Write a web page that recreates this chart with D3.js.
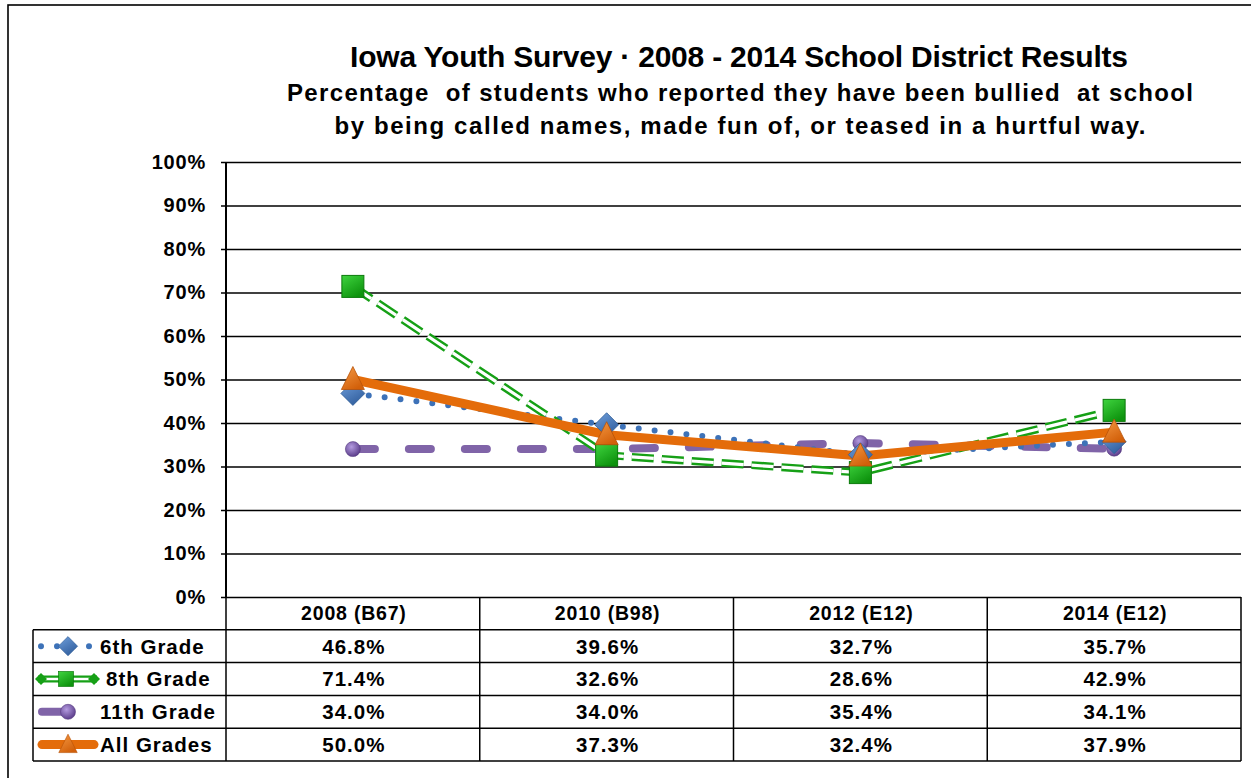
<!DOCTYPE html>
<html>
<head>
<meta charset="utf-8">
<script src="https://cdn.jsdelivr.net/npm/d3@7"></script>
<style>
body { margin: 0; background: #fff; }
svg text { font-family: "Liberation Sans", Arial, Helvetica, sans-serif; font-weight: bold; fill: #000; }
</style>
</head>
<body>
<div id="container"></div>
<script>
// chart data
var categories = ["2008 (B67)", "2010 (B98)", "2012 (E12)", "2014 (E12)"];
var seriesNames = ["6th Grade", "8th Grade", "11th Grade", "All Grades"];
var grade6 = [46.8, 39.6, 32.7, 35.7];
var grade8 = [71.4, 32.6, 28.6, 42.9];
var grade11 = [34.0, 34.0, 35.4, 34.1];
var allGrades = [50.0, 37.3, 32.4, 37.9];
var yTicks = [0, 10, 20, 30, 40, 50, 60, 70, 80, 90, 100];
var titleText = "Iowa Youth Survey \u00b7 2008 - 2014 School District Results";
var subtitleLines = [
	"Percentage  of students who reported they have been bullied  at school",
	"by being called names, made fun of, or teased in a hurtful way."
];

(function()
{
	var W = 1251, H = 778;
	var plotLeft = 226, plotRight = 1241, plotTop = 162, plotBottom = 597;
	var tableBottom = 761, legendLeft = 33;

	var svg = d3.select("#container").append("svg").attr("width", W).attr("height", H);
	var defs = svg.append("defs");

	// gradients for the glossy markers
	function linGrad(id, c1, c2)
	{
		var g = defs.append("linearGradient").attr("id", id).attr("x1", 0).attr("y1", 0).attr("x2", 0.6).attr("y2", 1);
		g.append("stop").attr("offset", "0%").attr("stop-color", c1);
		g.append("stop").attr("offset", "100%").attr("stop-color", c2);
	}
	linGrad("gBlue", "#6f9fdc", "#33609f");
	linGrad("gGreen", "#3fd43f", "#0e930e");
	linGrad("gOrange", "#f59a45", "#d2600a");
	var rg = defs.append("radialGradient").attr("id", "gPurple").attr("cx", "40%").attr("cy", "35%").attr("r", "65%");
	rg.append("stop").attr("offset", "0%").attr("stop-color", "#b49be0");
	rg.append("stop").attr("offset", "100%").attr("stop-color", "#5d3f8c");

	// outer frame
	svg.append("rect").attr("x", 8).attr("y", 5).attr("width", W + 20).attr("height", H + 20)
		.attr("fill", "none").attr("stroke", "#000").attr("stroke-width", 1.6);

	// titles
	svg.append("text").attr("x", 739).attr("y", 67).attr("text-anchor", "middle")
		.style("font-size", "30px").attr("textLength", 778).attr("lengthAdjust", "spacing")
		.text(titleText);
	var subW = [906, 811];
	var subY = [101, 134];
	subtitleLines.forEach(function(t, i)
	{
		svg.append("text").attr("x", 740).attr("y", subY[i]).attr("text-anchor", "middle")
			.style("font-size", "24px").attr("textLength", subW[i]).attr("lengthAdjust", "spacing")
			.style("white-space", "pre")
			.text(t);
	});

	var x = d3.scaleBand().domain(categories).range([plotLeft, plotRight]);
	var y = d3.scaleLinear().domain([0, 100]).range([plotBottom, plotTop]);
	var rows = d3.scaleBand().domain(["head"].concat(seriesNames)).range([plotBottom, tableBottom]);

	// gridlines
	var grid = svg.append("g").attr("transform", "translate(" + plotLeft + ",0)")
		.call(d3.axisLeft(y).tickValues(yTicks).tickSize(-(plotRight - plotLeft)).tickFormat(""));
	grid.select(".domain").remove();
	grid.selectAll("line").attr("stroke", "#000").attr("stroke-width", 1.5);

	// y axis
	var yAxis = svg.append("g").attr("transform", "translate(" + plotLeft + ",0)")
		.call(d3.axisLeft(y).tickValues(yTicks).tickSize(5).tickPadding(15).tickFormat(function(d) { return d + "%"; }));
	yAxis.select(".domain").attr("stroke", "#000").attr("stroke-width", 2).attr("d", "M0," + plotTop + "V" + plotBottom);
	yAxis.selectAll(".tick line").attr("stroke", "#000").attr("stroke-width", 1.5);
	yAxis.selectAll(".tick text").style("font-size", "20px").style("letter-spacing", "0.8px")
		.style("font-family", "'Liberation Sans', Arial, sans-serif").style("font-weight", "bold").attr("fill", "#000");

	// data table
	var table = svg.append("g");
	var hLines = [plotBottom].concat(seriesNames.map(function(s) { return rows(s); })).concat([tableBottom]);
	hLines.forEach(function(yy, i)
	{
		if (i == 0) return; // top line is the 0% gridline
		table.append("line").attr("x1", legendLeft).attr("x2", plotRight).attr("y1", yy).attr("y2", yy)
			.attr("stroke", "#000").attr("stroke-width", 1.5);
	});
	table.append("line").attr("x1", legendLeft).attr("x2", legendLeft).attr("y1", rows(seriesNames[0])).attr("y2", tableBottom)
		.attr("stroke", "#000").attr("stroke-width", 1.5);
	var colEdges = categories.map(function(c) { return x(c); }).concat([plotRight]);
	colEdges.forEach(function(xx)
	{
		table.append("line").attr("x1", xx).attr("x2", xx).attr("y1", plotBottom).attr("y2", tableBottom)
			.attr("stroke", "#000").attr("stroke-width", 1.5);
	});

	categories.forEach(function(c)
	{
		table.append("text").attr("x", x(c) + x.bandwidth() / 2 + 1).attr("y", rows("head") + rows.bandwidth() / 2)
			.attr("dy", "0.36em").attr("text-anchor", "middle").style("font-size", "19.5px").style("letter-spacing", "0.8px")
			.text(c);
	});

	var series = [
		{ name: seriesNames[0], values: grade6, marker: "diamond" },
		{ name: seriesNames[1], values: grade8, marker: "square" },
		{ name: seriesNames[2], values: grade11, marker: "circle" },
		{ name: seriesNames[3], values: allGrades, marker: "triangle" }
	];

	series.forEach(function(s)
	{
		s.values.forEach(function(v, i)
		{
			table.append("text").attr("x", x(categories[i]) + x.bandwidth() / 2 + 1).attr("y", rows(s.name) + rows.bandwidth() / 2)
				.attr("dy", "0.36em").attr("text-anchor", "middle").style("font-size", "20.5px").style("letter-spacing", "1px")
				.text(v.toFixed(1) + "%");
		});
	});

	// line styles
	function styleLine(sel, s)
	{
		if (s.marker == "diamond")
			sel.attr("stroke", "#3d72b8").attr("stroke-width", 6).attr("stroke-linecap", "round").attr("stroke-dasharray", "0 16");
		else if (s.marker == "circle")
			sel.attr("stroke", "#8064a8").attr("stroke-width", 8).attr("stroke-linecap", "round").attr("stroke-dasharray", "22 34");
		else if (s.marker == "triangle")
			sel.attr("stroke", "#e46c0a").attr("stroke-width", 9).attr("stroke-linejoin", "round");
		else
			sel.attr("stroke", "#16a016").attr("stroke-width", 8).attr("stroke-dasharray", "22 8");
	}

	function drawMarker(g, type, cx, cy, k)
	{
		k = k || 1;
		var m = g.append("g").attr("transform", "translate(" + cx + "," + cy + ") scale(" + k + ")");
		if (type == "diamond")
			m.append("path").attr("d", "M0,-12L12,0L0,12L-12,0Z").attr("fill", "url(#gBlue)").attr("stroke", "#2f5d97").attr("stroke-width", 0.8);
		else if (type == "square")
			m.append("rect").attr("x", -11).attr("y", -11).attr("width", 22).attr("height", 22)
				.attr("fill", "url(#gGreen)").attr("stroke", "#0b7a0b").attr("stroke-width", 1);
		else if (type == "circle")
			m.append("circle").attr("r", 7.5).attr("fill", "url(#gPurple)").attr("stroke", "#553a80").attr("stroke-width", 0.6);
		else
			m.append("path").attr("d", "M0,-13L11.5,10L-11.5,10Z").attr("fill", "url(#gOrange)").attr("stroke", "#b85207").attr("stroke-width", 0.8);
	}

	var line = d3.line()
		.x(function(d, i) { return x(categories[i]) + x.bandwidth() / 2; })
		.y(function(d) { return y(d); });

	var lineOrder = [2, 0, 1, 3];
	var lines = svg.append("g");
	lineOrder.forEach(function(k)
	{
		var s = series[k];
		var p = lines.append("path").datum(s.values).attr("fill", "none").attr("d", line);
		styleLine(p, s);
		if (s.marker == "square")
		{
			lines.append("path").datum(s.values).attr("fill", "none").attr("d", line)
				.attr("stroke", "#fff").attr("stroke-width", 3.2).attr("stroke-dasharray", "22 8");
		}
	});

	var markers = svg.append("g");
	lineOrder.forEach(function(k)
	{
		var s = series[k];
		s.values.forEach(function(v, i)
		{
			drawMarker(markers, s.marker, x(categories[i]) + x.bandwidth() / 2, y(v));
		});
	});

	// legend keys in the table
	var legend = svg.append("g");
	series.forEach(function(s)
	{
		var cy = rows(s.name) + rows.bandwidth() / 2;
		if (s.marker == "diamond")
		{
			legend.append("path").attr("d", "M41," + cy + "H97").attr("fill", "none")
				.attr("stroke", "#3d72b8").attr("stroke-width", 6).attr("stroke-linecap", "round").attr("stroke-dasharray", "0 16");
			drawMarker(legend, "diamond", 68, cy, 0.8);
		}
		else if (s.marker == "square")
		{
			legend.append("path").attr("d", "M38," + cy + "H97").attr("stroke", "#16a016").attr("stroke-width", 7);
			legend.append("path").attr("d", "M42," + cy + "H93").attr("stroke", "#fff").attr("stroke-width", 2.6);
			legend.append("path").attr("d", "M35," + cy + "l6,-6l6,6l-6,6Z").attr("fill", "#16a016");
			legend.append("path").attr("d", "M88," + cy + "l6,-6l6,6l-6,6Z").attr("fill", "#16a016");
			drawMarker(legend, "square", 66, cy, 0.68);
		}
		else if (s.marker == "circle")
		{
			legend.append("path").attr("d", "M42," + cy + "H66").attr("stroke", "#8064a8").attr("stroke-width", 8).attr("stroke-linecap", "round");
			drawMarker(legend, "circle", 68, cy, 1);
		}
		else
		{
			legend.append("path").attr("d", "M42," + cy + "H94").attr("stroke", "#e46c0a").attr("stroke-width", 9).attr("stroke-linecap", "round");
			drawMarker(legend, "triangle", 68, cy, 0.8);
		}
		var tx = (s.marker == "square") ? 106 : 100;
		legend.append("text").attr("x", tx).attr("y", cy).attr("dy", "0.36em")
			.style("font-size", "20.5px").style("letter-spacing", "1px").text(s.name);
	});
})();
</script>
</body>
</html>
